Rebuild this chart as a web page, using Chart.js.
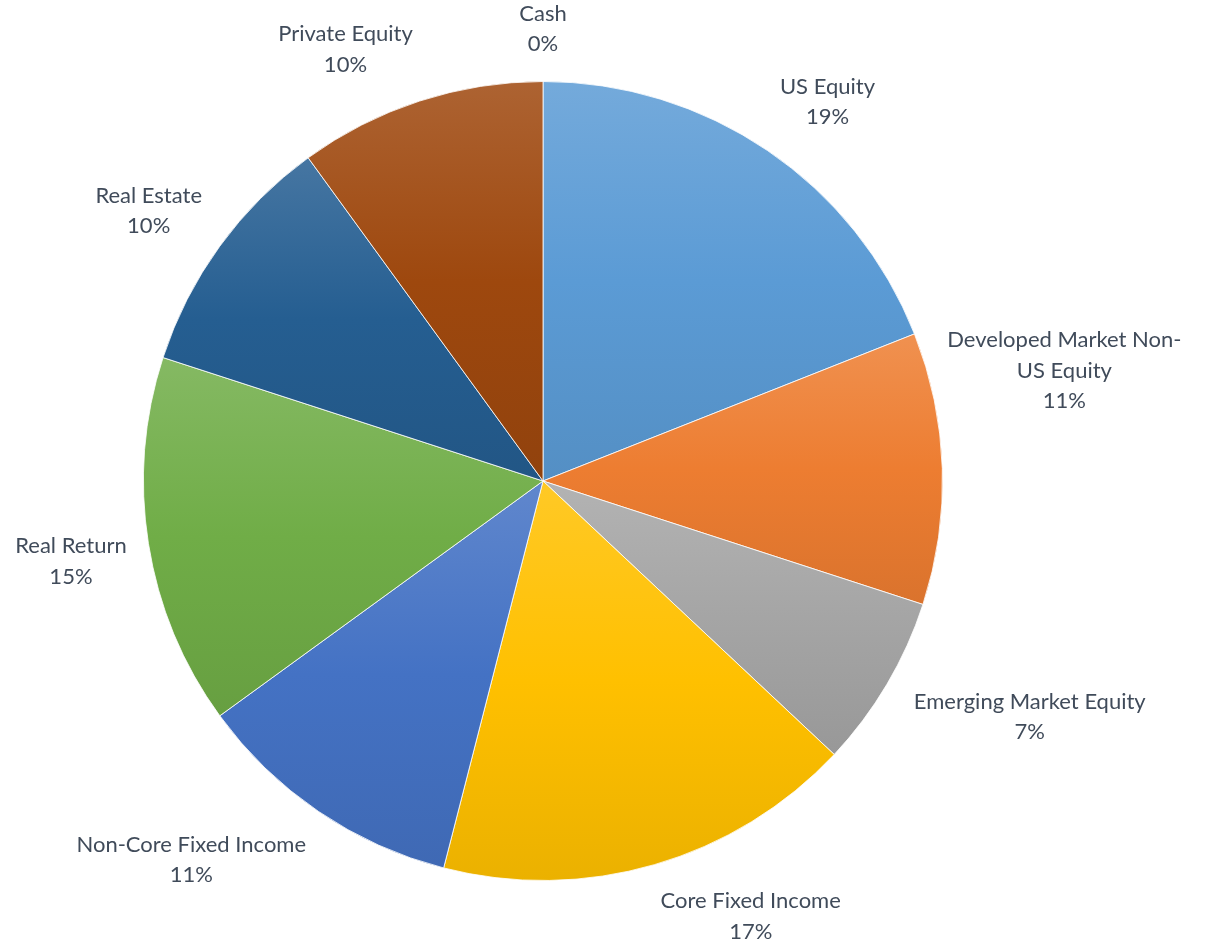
<!DOCTYPE html>
<html>
<head>
<meta charset="utf-8">
<script src="https://cdn.jsdelivr.net/npm/chart.js@4/dist/chart.umd.min.js"></script>
<style>
	html, body { margin: 0; padding: 0; background: #fff; }
	#wrap { width: 1205px; height: 946px; position: relative; }
</style>
</head>
<body>
<div id="wrap"><canvas id="allocationPie"></canvas></div>
<script>
'use strict';

// Asset classes, clockwise from 12 o'clock
const categories = [
	'US Equity',
	['Developed Market Non-', 'US Equity'],
	'Emerging Market Equity',
	'Core Fixed Income',
	'Non-Core Fixed Income',
	'Real Return',
	'Real Estate',
	'Private Equity',
	'Cash'
];
const allocation = [19, 11, 7, 17, 11, 15, 10, 10, 0];
const baseColors = ['#5B9BD5', '#ED7D31', '#A5A5A5', '#FFC000', '#4472C4', '#70AD47', '#255E91', '#9E480E', '#636363'];

const labelColor = '#404B5A';
const labelFont = '22px Lato, "DejaVu Sans", sans-serif';

function mix(hex, target, amt) {
	const n = parseInt(hex.slice(1), 16);
	const r = (n >> 16) & 255, g = (n >> 8) & 255, b = n & 255;
	const t = target === 'white' ? 255 : 0;
	const f = (c) => Math.round(c + (t - c) * amt);
	return 'rgb(' + f(r) + ',' + f(g) + ',' + f(b) + ')';
}

// vertical gradient over the bounding box of each slice
function sliceFill(ctx) {
	const chart = ctx.chart;
	const area = chart.chartArea;
	const i = ctx.dataIndex;
	const base = baseColors[i];
	if (!area) {
		return base;
	}
	const cx = (area.left + area.right) / 2;
	const cy = (area.top + area.bottom) / 2;
	const r = Math.min(area.right - area.left, area.bottom - area.top) / 2;
	const total = allocation.reduce((a, b) => a + b, 0);
	let before = 0;
	for (let k = 0; k < i; ++k) {
		before += allocation[k];
	}
	const a0 = -Math.PI / 2 + 2 * Math.PI * before / total;
	const a1 = a0 + 2 * Math.PI * allocation[i] / total;
	let ys = [cy, cy + r * Math.sin(a0), cy + r * Math.sin(a1)];
	[-Math.PI / 2, Math.PI / 2, 3 * Math.PI / 2].forEach(function (a) {
		if (a > a0 && a < a1) {
			ys.push(cy + r * Math.sin(a));
		}
	});
	const y0 = Math.min.apply(null, ys);
	let y1 = Math.max.apply(null, ys);
	if (y1 - y0 < 1) {
		y1 = y0 + 1;
	}
	const g = chart.ctx.createLinearGradient(0, y0, 0, y1);
	g.addColorStop(0, mix(base, 'white', 0.15));
	g.addColorStop(0.5, base);
	g.addColorStop(1, mix(base, 'black', 0.08));
	return g;
}

// outside-end labels, name + percentage
const outsideLabels = {
	id: 'outsideLabels',
	afterDatasetsDraw(chart, args, opts) {
		const ctx = chart.ctx;
		const meta = chart.getDatasetMeta(0);
		const data = chart.data.datasets[0].data;
		const total = data.reduce((a, b) => a + b, 0);
		const lineH = opts.lineHeight;
		ctx.save();
		ctx.font = labelFont;
		ctx.fillStyle = labelColor;
		ctx.textAlign = 'center';
		ctx.textBaseline = 'middle';
		meta.data.forEach(function (arc, i) {
			const lbl = chart.data.labels[i];
			const lines = (Array.isArray(lbl) ? lbl.slice() : [lbl]);
			lines.push(Math.round(data[i] / total * 100) + '%');
			const w = Math.max.apply(null, lines.map((s) => ctx.measureText(s).width));
			const h = lines.length * lineH;
			const mid = (arc.startAngle + arc.endAngle) / 2;
			const rr = arc.outerRadius + opts.gap;
			const ax = arc.x + Math.cos(mid) * rr;
			const ay = arc.y + Math.sin(mid) * rr;
			const kx = Math.max(-1, Math.min(1, 3.6 * Math.cos(mid)));
			const ky = Math.max(-1, Math.min(1, 3 * Math.sin(mid)));
			const nudge = opts.nudge[i] || [0, 0];
			const bx = ax + kx * w / 2 + nudge[0];
			const by = ay + ky * h / 2 + nudge[1];
			lines.forEach(function (s, j) {
				ctx.fillText(s, bx, by - h / 2 + lineH * (j + 0.5));
			});
		});
		ctx.restore();
	}
};

const pieChart = new Chart(document.getElementById('allocationPie'), {
	type: 'pie',
	data: {
		labels: categories,
		datasets: [
			{
				data: allocation,
				backgroundColor: sliceFill,
				borderColor: 'rgba(255,255,255,0.8)',
				borderWidth: 1
			}
		]
	},
	options: {
		responsive: true,
		maintainAspectRatio: false,
		animation: false,
		layout: {
			padding: { left: 143, right: 262, top: 81, bottom: 65 }
		},
		plugins: {
			legend: { display: false },
			tooltip: { enabled: false },
			outsideLabels: {
				gap: 22,
				lineHeight: 30.5,
				nudge: { 1: [-17, -93], 2: [8, -9], 6: [0, 8] }
			}
		}
	},
	plugins: [outsideLabels]
});
</script>
</body>
</html>
